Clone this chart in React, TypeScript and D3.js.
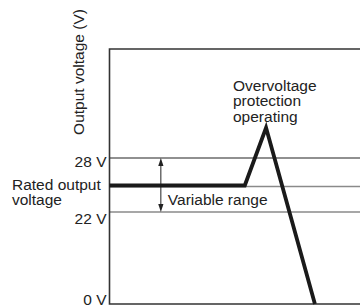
import React, { useEffect, useRef } from 'react';
import * as d3 from 'd3';

// schematic waveform: time (arbitrary units) vs output voltage
const timePoints = [0, 54, 62.5, 82];
const voltagePoints = [24, 24, 32.4, 0];

// reference lines
const upperLimit = 28;
const ratedVoltage = 24;
const lowerLimit = 22;

const tickValues = [28, 22, 0];
const tickLabels = ['28 V', '22 V', '0 V'];

const overvoltageLabel = ['Overvoltage', 'protection', 'operating'];
const ratedLabel = ['Rated output', 'voltage'];

const W = 360;
const H = 307;
const FONT = '"Liberation Sans", Arial, Helvetica, sans-serif';
const FS = 15.5;

export default function App() {
  const svgRef = useRef<SVGSVGElement>(null);

  useEffect(() => {
    if (!svgRef.current) return;
    const svg = d3.select(svgRef.current);
    svg.selectAll('*').remove();

    const left = 109.5;
    const top = 49;
    const bottom = 304;

    const x = d3.scaleLinear().domain([0, 100]).range([left, W]);
    // not to scale: piecewise so the band is stretched like the original
    const y = d3.scaleLinear().domain([0, 22, 24, 28]).range([bottom, 212, 185.5, 158]);

    const g = svg.append('g');

    // reference lines
    g.append('line')
      .attr('x1', left).attr('x2', W)
      .attr('y1', y(upperLimit)).attr('y2', y(upperLimit))
      .attr('stroke', '#222').attr('stroke-width', 1.2);
    g.append('line')
      .attr('x1', left).attr('x2', W)
      .attr('y1', y(ratedVoltage) + 1).attr('y2', y(ratedVoltage) + 1)
      .attr('stroke', '#8a8a8a').attr('stroke-width', 1.5);
    g.append('line')
      .attr('x1', left).attr('x2', W)
      .attr('y1', y(lowerLimit)).attr('y2', y(lowerLimit))
      .attr('stroke', '#8a8a8a').attr('stroke-width', 1.5);

    // frame
    g.append('path')
      .attr('d', `M${W},${top}H${left}V${bottom}H${W}`)
      .attr('fill', 'none')
      .attr('stroke', '#333')
      .attr('stroke-width', 1.6);

    // variable range arrow
    const ax = x(20.5);
    const y1 = y(upperLimit);
    const y2 = y(lowerLimit);
    g.append('line')
      .attr('x1', ax).attr('x2', ax)
      .attr('y1', y1 + 6).attr('y2', y2 - 6)
      .attr('stroke', '#222').attr('stroke-width', 1);
    g.append('path')
      .attr('d', `M${ax},${y1}L${ax - 2.6},${y1 + 8}L${ax + 2.6},${y1 + 8}Z`)
      .attr('fill', '#222');
    g.append('path')
      .attr('d', `M${ax},${y2}L${ax - 2.6},${y2 - 8}L${ax + 2.6},${y2 - 8}Z`)
      .attr('fill', '#222');

    // waveform
    const line = d3.line<number>()
      .x((_, i) => x(timePoints[i]))
      .y((d) => y(d));
    g.append('path')
      .datum(voltagePoints)
      .attr('d', line)
      .attr('fill', 'none')
      .attr('stroke', '#1a1a1a')
      .attr('stroke-width', 3.8)
      .attr('stroke-linejoin', 'miter');

    const text = (tx: number, ty: number, s: string, anchor = 'start') =>
      g.append('text')
        .attr('x', tx).attr('y', ty)
        .attr('text-anchor', anchor)
        .attr('font-family', FONT)
        .attr('font-size', FS)
        .attr('fill', '#222')
        .text(s);

    // tick labels
    const tickOffsets = [9, 12, 1];
    tickValues.forEach((v, i) => {
      text(left - 3, y(v) + tickOffsets[i], tickLabels[i], 'end');
    });

    ratedLabel.forEach((s, i) => text(12, 189.5 + i * 15.5, s));
    overvoltageLabel.forEach((s, i) => text(233, 90.7 + i * 15.7, s));
    text(ax + 7, 205, 'Variable range');

    // y axis title
    g.append('text')
      .attr('transform', `translate(83.5,${72}) rotate(-90)`)
      .attr('text-anchor', 'middle')
      .attr('font-family', FONT)
      .attr('font-size', FS)
      .attr('fill', '#222')
      .text('Output voltage (V)');
  }, []);

  return (
    <svg
      ref={svgRef}
      width={W}
      height={H}
      style={{ position: 'absolute', left: 0, top: 0, background: '#fff' }}
    />
  );
}
